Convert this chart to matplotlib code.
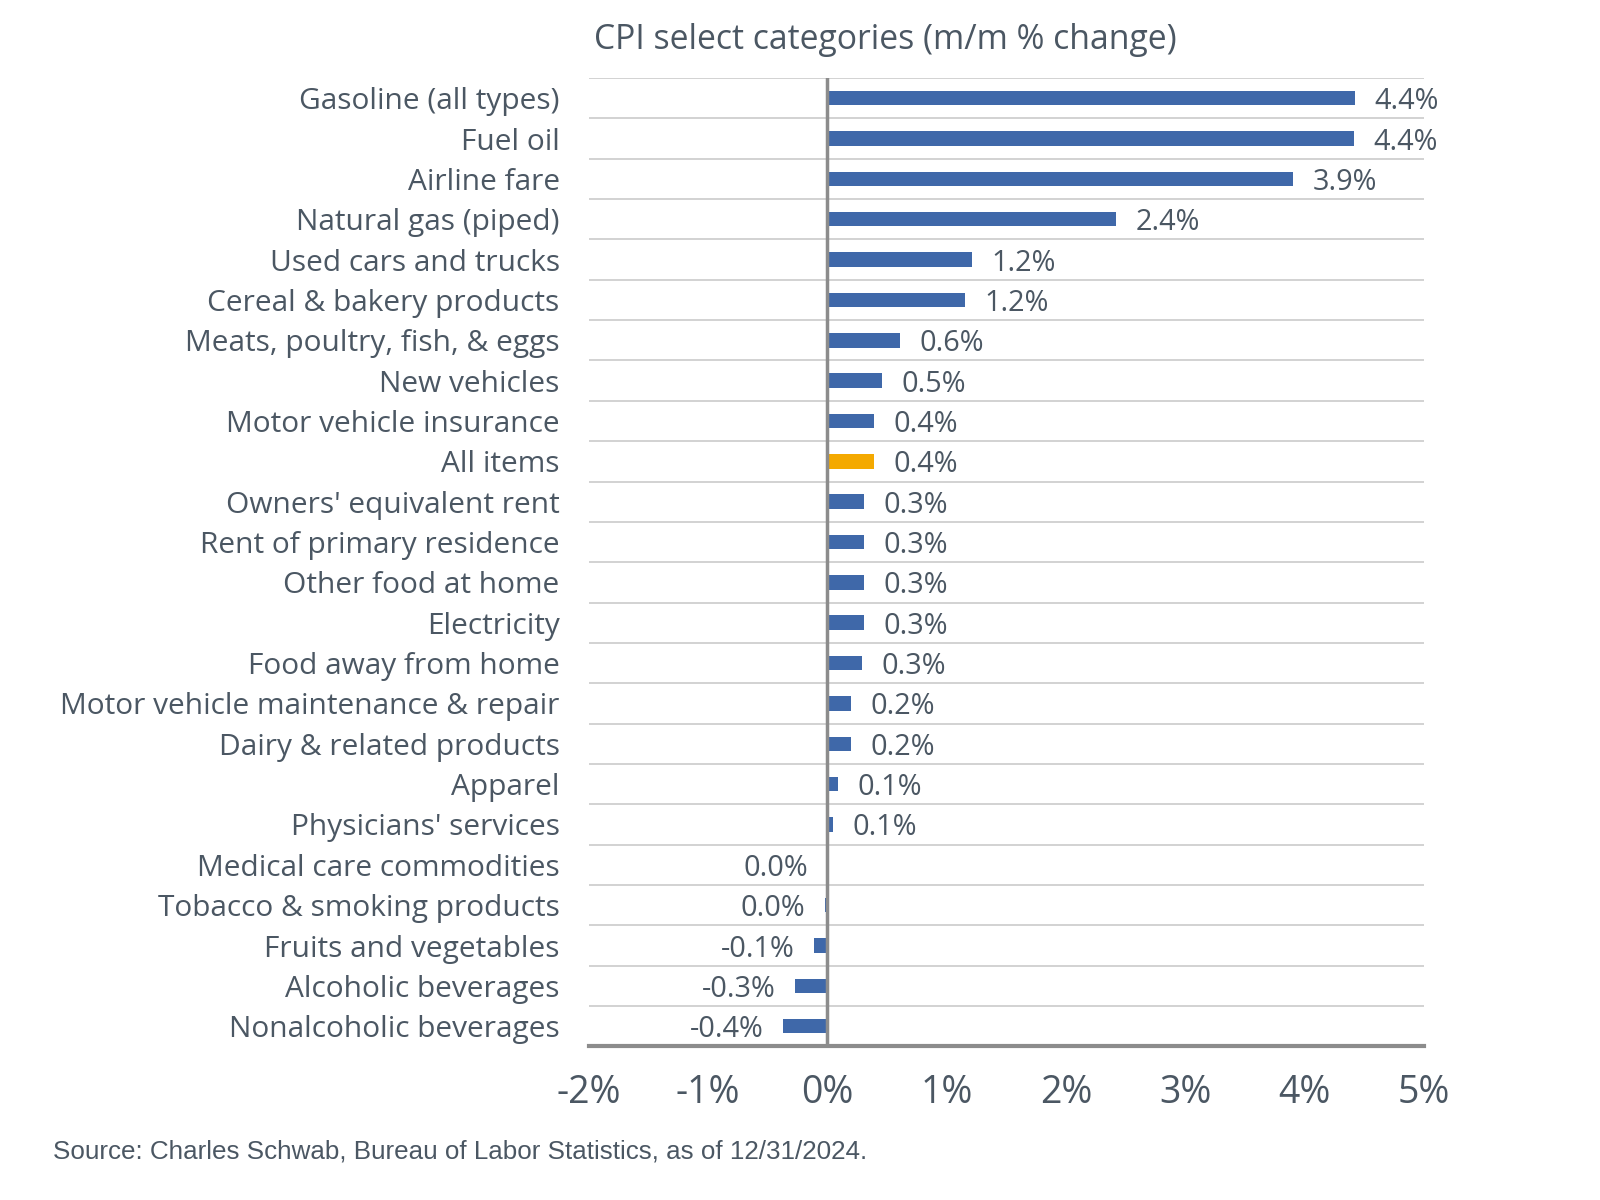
"""
CPI select categories, m/m % change (horizontal bar chart).
Saves to out.png
"""

import matplotlib
matplotlib.use("Agg")
import matplotlib.pyplot as plt
import matplotlib.ticker as mticker
import numpy as np

OUT_PATH = "out.png"

categories = [
    "Gasoline (all types)", "Fuel oil", "Airline fare", "Natural gas (piped)",
    "Used cars and trucks", "Cereal & bakery products", "Meats, poultry, fish, & eggs",
    "New vehicles", "Motor vehicle insurance", "All items", "Owners' equivalent rent",
    "Rent of primary residence", "Other food at home", "Electricity",
    "Food away from home", "Motor vehicle maintenance & repair",
    "Dairy & related products", "Apparel", "Physicians' services",
    "Medical care commodities", "Tobacco & smoking products",
    "Fruits and vegetables", "Alcoholic beverages", "Nonalcoholic beverages",
]
values = [4.42, 4.41, 3.90, 2.42, 1.21, 1.15, 0.61, 0.46, 0.39, 0.39, 0.31,
          0.31, 0.31, 0.31, 0.29, 0.20, 0.20, 0.09, 0.05, 0.0, -0.02,
          -0.11, -0.27, -0.37]
value_labels = ["4.4%", "4.4%", "3.9%", "2.4%", "1.2%", "1.2%", "0.6%", "0.5%",
                "0.4%", "0.4%", "0.3%", "0.3%", "0.3%", "0.3%", "0.3%", "0.2%",
                "0.2%", "0.1%", "0.1%", "0.0%", "0.0%", "-0.1%", "-0.3%", "-0.4%"]
highlight = "All items"

x_ticks = [-2, -1, 0, 1, 2, 3, 4, 5]

BLUE = "#3F68A9"
ORANGE = "#F4A900"
TEXT = "#4B5763"
GRID_COL = "#CFCFCF"
AXIS_COL = "#8C8C8C"

plt.rcParams["font.family"] = ["Open Sans", "DejaVu Sans"]

fig = plt.figure(figsize=(16, 12), dpi=100)
ax = fig.add_axes([0.368, 0.128, 0.522, 0.807])

n = len(categories)
y = np.arange(n)
colors = [ORANGE if c == highlight else BLUE for c in categories]
ax.barh(y, values, height=0.36, color=colors, zorder=3)

ax.set_ylim(n - 0.5, -0.5)
ax.set_xlim(-2, 5)

# horizontal separators between rows
ax.set_yticks(np.arange(n + 1) - 0.5, minor=True)
ax.yaxis.grid(True, which="minor", color=GRID_COL, lw=1.3, zorder=0)
ax.set_yticks(y)
ax.set_yticklabels(categories, fontsize=21.5, color=TEXT)
ax.tick_params(axis="y", which="both", length=0, pad=21)

ax.set_xticks(x_ticks)
ax.xaxis.set_major_formatter(mticker.FuncFormatter(lambda v, p: f"{v:.0f}%"))
ax.tick_params(axis="x", length=0, pad=20, labelsize=27, labelcolor=TEXT)

ax.axvline(0, color=AXIS_COL, lw=2.5, zorder=4)

for side in ("top", "right", "left"):
    ax.spines[side].set_visible(False)
ax.spines["bottom"].set_color(AXIS_COL)
ax.spines["bottom"].set_linewidth(3)

# value labels
for i, (v, lbl) in enumerate(zip(values, value_labels)):
    if v > 0.001:
        ax.annotate(lbl, xy=(v, i), xytext=(14, 0), textcoords="offset points",
                    ha="left", va="center_baseline", fontsize=20.8, color=TEXT)
    else:
        ax.annotate(lbl, xy=(min(v, 0), i), xytext=(-14, 0), textcoords="offset points",
                    ha="right", va="center_baseline", fontsize=20.8, color=TEXT)

fig.text(885 / 1600, 1 - 40 / 1200, "CPI select categories (m/m % change)",
         ha="center", va="center", fontsize=24.3, color=TEXT)
fig.text(53 / 1600, 1 - 1151 / 1200,
         "Source: Charles Schwab, Bureau of Labor Statistics, as of 12/31/2024.",
         ha="left", va="center", fontsize=18.7, color=TEXT,
         family=["Liberation Sans", "DejaVu Sans"])

plt.savefig(OUT_PATH, dpi=100, facecolor="white")
